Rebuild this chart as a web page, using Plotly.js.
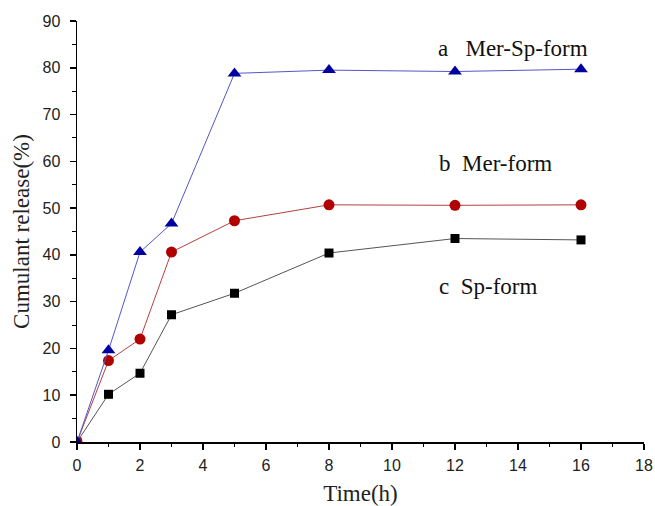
<!DOCTYPE html>
<html>
<head>
<meta charset="utf-8">
<script src="https://cdn.plot.ly/plotly-3.0.1.min.js"></script>
<style>html,body{margin:0;padding:0;background:#fff;}#chart{width:655px;height:506px;}</style>
</head>
<body>
<div id="chart"></div>
<script>
const timeH = [0, 1, 2, 3, 5, 8, 12, 16];
const merSpForm = [0, 19.6, 40.6, 46.7, 78.8, 79.5, 79.2, 79.7];
const merForm = [0, 17.4, 22.0, 40.6, 47.3, 50.7, 50.6, 50.7];
const spForm = [0, 10.2, 14.7, 27.2, 31.8, 40.4, 43.5, 43.2];
const seriesLabels = ["a\u00a0\u00a0\u00a0Mer-Sp-form", "b\u00a0\u00a0Mer-form", "c\u00a0\u00a0Sp-form"];

const serif = 'Liberation Serif, Times New Roman, serif';
const sans = 'Liberation Sans, Arial, sans-serif';

const traces = [
  {x: timeH, y: spForm, mode: 'lines+markers', name: seriesLabels[2],
   line: {color: '#555555', width: 1}, marker: {symbol: 'square', size: 9, color: '#000000'}},
  {x: timeH, y: merForm, mode: 'lines+markers', name: seriesLabels[1],
   line: {color: '#b54040', width: 1}, marker: {symbol: 'circle', size: 11, color: '#b00000'}},
  {x: timeH, y: merSpForm, mode: 'lines+markers', name: seriesLabels[0],
   line: {color: '#5555cc', width: 1}, marker: {symbol: 'triangle-up', size: 12, color: '#0000a0'}}
];

const axisCommon = {
  showline: true, linecolor: '#000', linewidth: 1.5, mirror: false,
  ticks: 'outside', ticklen: 6, tickwidth: 1.5, tickcolor: '#000',
  showgrid: false, zeroline: false,
  tickfont: {family: sans, size: 16, color: '#222'},
  minor: {ticks: 'outside', ticklen: 3.5, tickwidth: 1, tickcolor: '#000', showgrid: false}
};

const layout = {
  width: 655, height: 506,
  margin: {l: 76.5, r: 10.5, t: 20.7, b: 64.3},
  paper_bgcolor: '#fff', plot_bgcolor: '#fff',
  showlegend: false,
  xaxis: Object.assign({}, axisCommon, {
    range: [0, 18], dtick: 2, tick0: 0, ticklabelstandoff: 2,
    minor: Object.assign({}, axisCommon.minor, {dtick: 1}),
    title: {text: 'Time(h)', font: {family: serif, size: 23, color: '#222'}, standoff: 13}
  }),
  yaxis: Object.assign({}, axisCommon, {
    range: [0, 90], dtick: 10, tick0: 0, ticklabelstandoff: 6,
    minor: Object.assign({}, axisCommon.minor, {dtick: 5}),
    title: {text: 'Cumulant release(%)', font: {family: serif, size: 23, color: '#222'}, standoff: 6}
  }),
  annotations: [
    {x: 11.39, y: 84.1, xref: 'x', yref: 'y', xanchor: 'left', yanchor: 'middle', showarrow: false,
     text: seriesLabels[0], font: {family: serif, size: 23, color: '#111'}},
    {x: 11.42, y: 59.6, xref: 'x', yref: 'y', xanchor: 'left', yanchor: 'middle', showarrow: false,
     text: seriesLabels[1], font: {family: serif, size: 23, color: '#111'}},
    {x: 11.42, y: 33.3, xref: 'x', yref: 'y', xanchor: 'left', yanchor: 'middle', showarrow: false,
     text: seriesLabels[2], font: {family: serif, size: 23, color: '#111'}}
  ]
};

Plotly.newPlot('chart', traces, layout, {displayModeBar: false, staticPlot: true});
</script>
</body>
</html>
